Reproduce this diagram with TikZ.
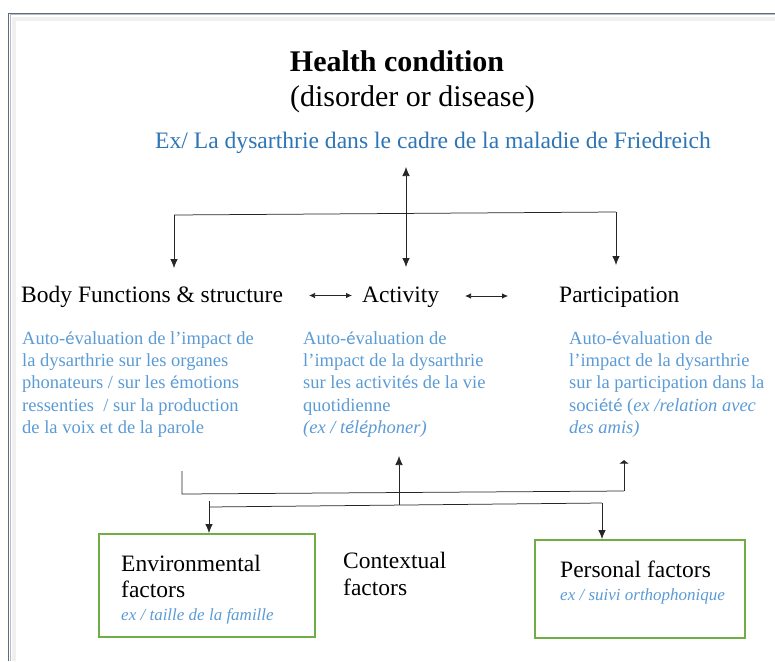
\documentclass[tikz,border=0pt]{standalone}
\usepackage{fontspec}
\setmainfont{Liberation Serif}
\newfontfamily\calfont{Carlito}
\usetikzlibrary{arrows.meta}
\newcommand\ee{{\calfont é}}
\definecolor{titleblue}{RGB}{46,117,182}
\definecolor{bodyblue}{RGB}{91,155,213}
\definecolor{boxgreen}{RGB}{112,173,71}
\definecolor{framec}{RGB}{96,108,125}
\tikzset{
  lbl/.style={inner sep=0pt, anchor=base west, font=\fontsize{23.5}{26}\selectfont},
  para/.style={inner sep=0pt, anchor=base west, align=left, text=bodyblue, font=\fontsize{18.5}{22.4}\selectfont},
  exa/.style={inner sep=0pt, anchor=base west, text=bodyblue, font=\itshape\fontsize{17}{20}\selectfont},
  conn/.style={line width=0.75pt, black!85},
  arr/.style={conn, -{Latex[length=9pt,width=7.5pt]}},
  darr/.style={conn, {Latex[length=9pt,width=7.5pt]}-{Latex[length=9pt,width=7.5pt]}},
  sarr/.style={conn, {Latex[length=6pt,width=5.5pt]}-{Latex[length=6pt,width=5.5pt]}},
  barr/.style={conn, -{Latex[length=3.5pt,width=10pt]}},
  gbox/.style={draw=boxgreen, line width=1.5pt, inner sep=0pt, anchor=north west}
}
\begin{document}
\begin{tikzpicture}[x=1pt,y=-1pt]
\useasboundingbox (0,0) rectangle (775,661);
% frame
\draw[gray!12, line width=4pt] (14,661) -- (14,19) -- (775,19);
\draw[framec!45, line width=1pt] (10.5,661) -- (10.5,15) -- (775,15);
\draw[framec, line width=1.3pt] (8.7,661) -- (8.7,13.2) -- (775,13.2);

% title
\node[inner sep=0pt, anchor=base, font=\bfseries\fontsize{30}{36}\selectfont] (hc) at (397,71) {Health condition};
\node[inner sep=0pt, anchor=base, font=\fontsize{30}{36}\selectfont] (dd) at (412.5,106) {(disorder or disease)};
\node[inner sep=0pt, anchor=base west, text=titleblue, font=\fontsize{23.6}{26}\selectfont] (ex) at (155,148) {Ex/ La dysarthrie dans le cadre de la maladie de Friedreich};

% row labels
\node[lbl] (body) at (21,302) {Body Functions \& structure};
\node[lbl] (act) at (362,302) {Activity};
\node[lbl] (part) at (559,302) {Participation};

% paragraphs (anchor at the baseline of the last line)
\node[para] (p1) at (22,433.6) {Auto-\ee valuation de l’impact de\\la dysarthrie sur les organes\\phonateurs / sur les \ee motions\\ressenties~ / sur la production\\de la voix et de la parole};
\node[para] (p2) at (303,433.6) {Auto-\ee valuation de\\l’impact de la dysarthrie\\sur les activit\ee s de la vie\\quotidienne\\\textit{(ex / t\ee l\ee phoner)}};
\node[para] (p3) at (569,433.6) {Auto-\ee valuation de\\l’impact de la dysarthrie\\sur la participation dans la\\soci\ee t\ee{} (\textit{ex /relation avec}\\\textit{des amis)}};

% boxes
\node[gbox, minimum width=216pt, minimum height=103pt] (envbox) at (98,533) {};
\node[gbox, minimum width=210pt, minimum height=98pt] (persbox) at (534,539) {};
\node[lbl] (env1) at (121,571) {Environmental};
\node[lbl] (env2) at (121,597) {factors};
\node[exa] (env3) at (121,620) {ex / taille de la famille};
\node[lbl] (ctx1) at (343,568) {Contextual};
\node[lbl] (ctx2) at (343,595) {factors};
\node[lbl] (pers1) at (560,577) {Personal factors};
\node[exa] (pers2) at (560,600) {ex / suivi orthophonique};

% top connectors
\coordinate (tl) at (174,215);
\coordinate (tr) at (616,212);
\coordinate (tlE) at (174,268);
\coordinate (trE) at (616,265);
\coordinate (cT) at (406,167);
\coordinate (cB) at (406,267);
\draw[conn] (tl) -- (tr);
\draw[arr] (tl) -- (tlE);
\draw[arr] (tr) -- (trE);
\draw[darr] (cT) -- (cB);

% small arrows
\coordinate (a1l) at (309,295.5);
\coordinate (a1r) at (352,295.5);
\coordinate (a2l) at (465,296);
\coordinate (a2r) at (508,296);
\draw[sarr] (a1l) -- (a1r);
\draw[sarr] (a2l) -- (a2r);

% bottom connectors
\coordinate (b1) at (182,471);
\coordinate (b2) at (182,494);
\coordinate (b3) at (624,491);
\coordinate (b4) at (624,460);
\draw[conn] (b1) -- (b2) -- (b3);
\draw[barr] (b3) -- (b4);
\coordinate (m1) at (399,505);
\coordinate (m2) at (399,456);
\draw[arr] (m1) -- (m2);
\coordinate (l2a) at (209,507);
\coordinate (l2b) at (602,503);
\coordinate (l2at) at (209,501);
\draw[conn] (l2a) -- (l2b);
\draw[arr] (l2at) -- (l2at |- envbox.north);
\draw[arr] (l2b) -- (l2b |- persbox.north);
\end{tikzpicture}
\end{document}
